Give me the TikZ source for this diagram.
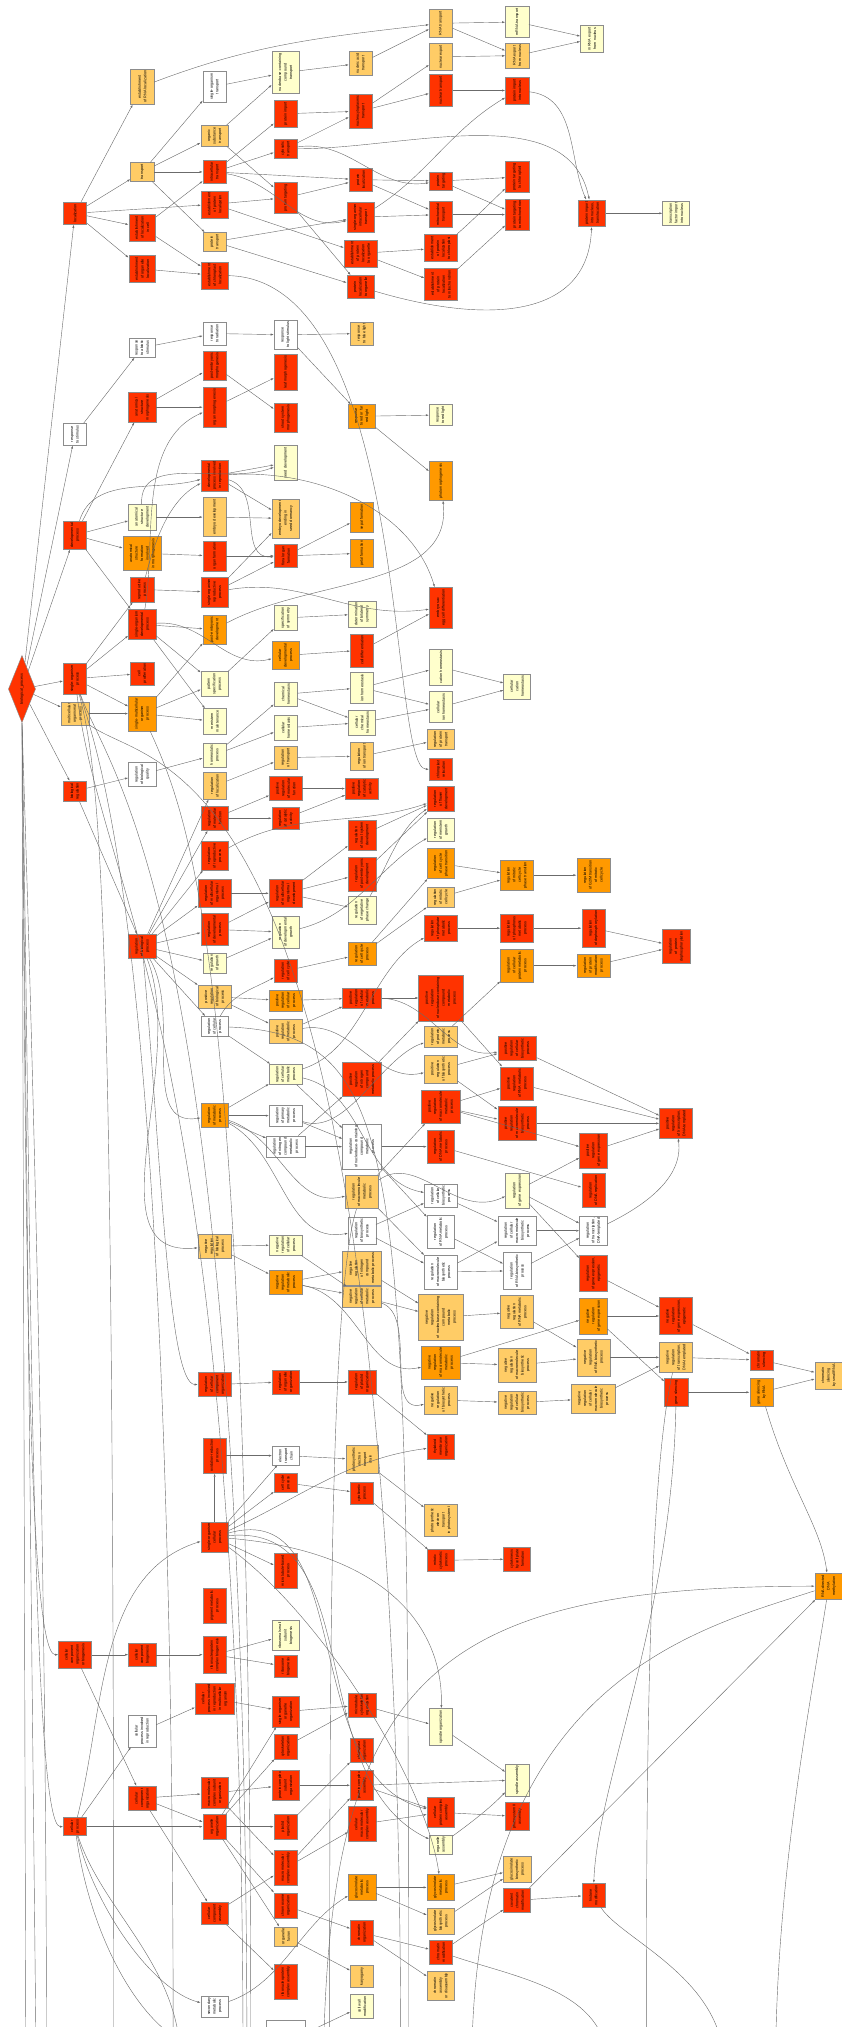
\documentclass[tikz,border=0pt]{standalone}
\usepackage{fontspec}
\setmainfont{Liberation Sans}
\usepackage{tikz}
\usetikzlibrary{arrows.meta, shapes.geometric}
\definecolor{cA}{HTML}{FF3300}
\definecolor{cB}{HTML}{FF9900}
\definecolor{cC}{HTML}{FFCC66}
\definecolor{cD}{HTML}{FFFFCC}

\begin{document}
\begin{tikzpicture}[x=1pt, y=1pt,
    term/.style = {draw=black!45, line width=0.35pt, rotate=90, align=center, font=\fontsize{2.9}{4.3}\selectfont, inner xsep=1.5pt, inner ysep=5pt, minimum height=18pt, minimum width=14pt},
    lvA/.style = {term, fill=cA}, lvB/.style = {term, fill=cB}, lvC/.style = {term, fill=cC},
    lvD/.style = {term, fill=cD}, lvN/.style = {term, fill=white},
    root/.style = {diamond, draw=black!45, line width=0.35pt, fill=cA, rotate=90, font=\fontsize{2.9}{4.3}\selectfont, inner sep=0pt, aspect=2.4, minimum width=52pt, minimum height=21pt},
    dep/.style = {-{Latex[length=2.4pt, width=1.6pt]}, line width=0.32pt, draw=black!58}]

    \useasboundingbox (0,0) rectangle (651,-1568);

    \node[root] (bp) at (17,-533) {biological\_process};

    \node[lvA] (loc) at (58,-165) {localization};
    \node[lvN] (rs) at (58,-336) {response\\to stimulus};
    \node[lvA] (dev) at (58,-414) {developmental\\process};
    \node[lvA] (sop) at (58,-525) {single-organism\\process};
    \node[lvC] (mop) at (58,-552) {multicellular\\organismal\\process};
    \node[lvA] (breg) at (58,-612) {biological\\regulation};
    \node[lvA] (ccob) at (58,-1280) {cellular\\component\\organization\\or biogenesis};
    \node[lvA] (cp) at (58,-1413) {cellular\\process};

    \node[lvC] (erl) at (110,-67) {establishment\\of RNA localization};
    \node[lvC] (trn) at (110,-133) {transport};
    \node[lvA] (elc) at (110,-176) {establishment\\of localization\\in cell};
    \node[lvA] (eol) at (110,-208) {establishment\\of organelle\\localization};
    \node[lvN] (ras) at (110,-269) {response\\to abiotic\\stimulus};
    \node[lvA] (asm) at (110,-315) {anatomical\\structure\\morphogenesis};
    \node[lvD] (asd) at (110,-400) {anatomical\\structure\\development};
    \node[lvB] (asf) at (110,-428) {anatomical\\structure\\formation\\involved\\in morphogenesis};
    \node[lvA] (rp) at (110,-456) {reproductive\\process};
    \node[lvA] (sodp) at (110,-483) {single-organism\\developmental\\process};
    \node[lvA] (cpro) at (110,-521) {cell\\proliferation};
    \node[lvB] (smop) at (110,-552) {single-multicellular\\organism\\process};
    \node[lvN] (rbq) at (110,-599) {regulation\\of biological\\quality};
    \node[lvA] (rbp) at (110,-732) {regulation\\of biological\\process};
    \node[lvA] (ccb) at (110,-1280) {cellular\\component\\biogenesis};
    \node[lvN] (cpir) at (110,-1339) {cellular\\process involved\\in reproduction};
    \node[lvA] (cco) at (110,-1391) {cellular\\component\\organization};

    \node[lvN] (sot) at (166,-67) {single-organism\\transport};
    \node[lvC] (ost) at (166,-105) {organic\\substance\\transport};
    \node[lvA] (ict) at (166,-133) {intracellular\\transport};
    \node[lvA] (epl) at (166,-158) {establishment\\of protein\\localization};
    \node[lvC] (ptr) at (166,-187) {protein\\transport};
    \node[lvA] (ecl) at (166,-213) {establishment\\of chloroplast\\localization};
    \node[lvN] (rrad) at (166,-258) {response\\to radiation};
    \node[lvA] (pem) at (166,-283) {post-embryonic\\morphogenesis};
    \node[lvA] (om) at (166,-315) {organ morphogenesis};
    \node[lvA] (dpr) at (166,-368) {developmental\\process involved\\in reproduction};
    \node[lvC] (emd) at (166,-400) {embryo development};
    \node[lvA] (ofm) at (166,-430) {organ formation};
    \node[lvA] (sorp) at (166,-458) {single organism\\reproductive\\process};
    \node[lvB] (ped) at (166,-487) {post-embryonic\\development};
    \node[lvD] (psp) at (166,-529) {pattern\\specification\\process};
    \node[lvD] (mm) at (166,-558) {meristem\\maintenance};
    \node[lvD] (hp) at (166,-584) {homeostatic\\process};
    \node[lvC] (rloc) at (166,-608) {regulation\\of localization};
    \node[lvA] (rmf) at (166,-633) {regulation\\of molecular\\function};
    \node[lvA] (rrp) at (166,-662) {regulation\\of reproductive\\process};
    \node[lvA] (rmop) at (166,-691) {regulation\\of multicellular\\organismal\\process};
    \node[lvA] (rdp) at (166,-719) {regulation\\of developmental\\process};
    \node[lvD] (rgr) at (166,-745) {regulation\\of growth};
    \node[lvC] (prbp) at (166,-771) {positive\\regulation\\of biological\\process};
    \node[lvN] (rcp) at (166,-794) {regulation\\of cellular\\process};
    \node[lvB] (rmp) at (166,-863) {regulation\\of metabolic\\process};
    \node[lvC] (nrbp) at (166,-964) {negative\\regulation\\of biological\\process};
    \node[lvA] (rcco) at (166,-1071) {regulation\\of cellular\\component\\organization};
    \node[lvA] (orp) at (166,-1126) {oxidation-reduction\\process};
    \node[lvA] (socp) at (166,-1189) {single-organism\\cellular\\process};
    \node[lvA] (pmp) at (166,-1242) {pigment metabolic\\process};
    \node[lvA] (rcb) at (166,-1280) {ribonucleoprotein\\complex biogenesis};
    \node[lvA] (cpmo) at (166,-1314) {cellular\\process involved\\in reproduction\\in multicellular\\organism};
    \node[lvA] (mcso) at (166,-1387) {macromolecular\\complex subunit\\organization};
    \node[lvA] (oo) at (166,-1413) {organelle\\organization};
    \node[lvA] (cca) at (166,-1480) {cellular\\component\\assembly};
    \node[lvN] (smp) at (166,-1552) {secondary\\metabolic\\process};
    \node[lvD, minimum height=30pt, minimum width=34pt] (somp) at (166,-1588) {};

    \node[lvD] (nct) at (221,-56) {nucleobase-containing\\compound\\transport};
    \node[lvA] (pimp) at (221,-88) {protein import};
    \node[lvA] (cytr) at (221,-115) {cytosolic\\transport};
    \node[lvA] (ptg) at (221,-153) {protein targeting};
    \node[lvN] (rls) at (221,-259) {response\\to light stimulus};
    \node[lvA] (lm) at (221,-288) {leaf morphogenesis};
    \node[lvA] (ssm) at (221,-323) {shoot system\\morphogenesis};
    \node[lvD] (sd) at (221,-358) {seed development};
    \node[lvC] (edes) at (221,-401) {embryo development\\ending in\\seed dormancy};
    \node[lvA] (foform) at (221,-430) {floral organ\\formation};
    \node[lvD] (sos) at (221,-478) {specification\\of symmetry};
    \node[lvB] (cdp) at (221,-507) {cellular\\developmental\\process};
    \node[lvD] (chh) at (221,-537) {chemical\\homeostasis};
    \node[lvD] (ch) at (221,-563) {cellular\\homeostasis};
    \node[lvC] (rtr) at (221,-586) {regulation\\of transport};
    \node[lvA] (prmf) at (221,-610) {positive\\regulation\\of molecular\\function};
    \node[lvA] (rca) at (221,-633) {regulation\\of catalytic\\activity};
    \node[lvA] (rmod) at (221,-691) {regulation\\of multicellular\\organismal\\development};
    \node[lvD] (rdg) at (221,-721) {regulation\\of developmental\\growth};
    \node[lvA] (rcc) at (221,-751) {regulation\\of cell cycle};
    \node[lvB] (prcp) at (221,-774) {positive\\regulation\\of cellular\\process};
    \node[lvC] (prmp) at (221,-798) {positive\\regulation\\of metabolic\\process};
    \node[lvD] (rcmp) at (221,-831) {regulation\\of cellular\\metabolic\\process};
    \node[lvN] (rpmp) at (221,-863) {regulation\\of primary\\metabolic\\process};
    \node[lvN] (rncmp) at (221,-887) {regulation\\of nitrogen\\compound\\metabolic\\process};
    \node[lvD] (nrcp) at (221,-963) {negative\\regulation\\of cellular\\process};
    \node[lvB] (nrmp) at (221,-992) {negative\\regulation\\of metabolic\\process};
    \node[lvA] (roo) at (221,-1069) {regulation\\of organelle\\organization};
    \node[lvN] (etc) at (221,-1126) {electron\\transport\\chain};
    \node[lvA] (ccyp) at (221,-1147) {cell cycle\\process};
    \node[lvA] (mtb) at (221,-1215) {microtubule-based\\process};
    \node[lvD] (rssb) at (221,-1265) {ribosomal small\\subunit\\biogenesis};
    \node[lvA] (rb) at (221,-1289) {ribosome\\biogenesis};
    \node[lvA] (soo) at (221,-1324) {single-organism\\organelle\\organization};
    \node[lvA] (cso) at (221,-1351) {cytoskeleton\\organization};
    \node[lvA] (pcso) at (221,-1381) {protein complex\\subunit\\organization};
    \node[lvA] (po) at (221,-1413) {plastid\\organization};
    \node[lvA] (mca) at (221,-1445) {macromolecular\\complex assembly};
    \node[lvA] (co) at (221,-1474) {chromosome\\organization};
    \node[lvC] (ofu) at (221,-1498) {organelle\\fusion};
    \node[lvA] (rcpa) at (221,-1533) {ribonucleoprotein\\complex assembly};
    \node[lvN, minimum height=30pt, minimum width=34pt] (cmpb) at (221,-1580) {};

    \node[lvC] (nat) at (279,-49) {nucleic acid\\transport};
    \node[lvA] (nctr) at (279,-86) {nucleocytoplasmic\\transport};
    \node[lvA] (ploc) at (279,-139) {protein\\localization};
    \node[lvA] (soit) at (279,-168) {single-organism\\intracellular\\transport};
    \node[lvA] (eplo) at (279,-196) {establishment\\of protein\\localization\\to organelle};
    \node[lvA] (plo) at (279,-222) {protein\\localization\\to organelle};
    \node[lvC] (rbl) at (280,-258) {response\\to blue light};
    \node[lvB] (rrfl) at (280,-322) {response\\to red or far\\red light};
    \node[lvB] (sf) at (280,-400) {sepal formation};
    \node[lvB] (pf) at (280,-428) {petal formation};
    \node[lvD] (dbs) at (280,-475) {determination\\of bilateral\\symmetry};
    \node[lvA] (cd) at (280,-503) {cell differentiation};
    \node[lvD] (ih) at (280,-532) {ion homeostasis};
    \node[lvD] (cchh) at (280,-559) {cellular\\chemical\\homeostasis};
    \node[lvC] (rit) at (280,-585) {regulation\\of ion transport};
    \node[lvA] (prca) at (280,-610) {positive\\regulation\\of catalytic\\activity};
    \node[lvA] (rssd) at (280,-646) {regulation\\of shoot system\\development};
    \node[lvA] (rped) at (280,-676) {regulation\\of post-embryonic\\development};
    \node[lvD] (rvpc) at (280,-704) {regulation\\of vegetative\\phase change};
    \node[lvB] (rccp) at (280,-738) {regulation\\of cell cycle\\process};
    \node[lvA] (prcmp) at (280,-772) {positive\\regulation\\of cellular\\metabolic\\process};
    \node[lvA] (prncm) at (280,-835) {positive\\regulation\\of nitrogen\\compound\\metabolic process};
    \node[lvN] (rnbc) at (280,-887) {regulation\\of nucleobase-containing\\compound\\metabolic\\process};
    \node[lvC] (rmmp) at (280,-922) {regulation\\of macromolecule\\metabolic\\process};
    \node[lvN] (rbsp) at (280,-952) {regulation\\of biosynthetic\\process};
    \node[lvC] (nrncm) at (280,-981) {negative\\regulation\\of nitrogen\\compound\\metabolic process};
    \node[lvC] (nrcmp) at (280,-1003) {negative\\regulation\\of cellular\\metabolic\\process};
    \node[lvA] (rpo) at (280,-1069) {regulation\\of plastid\\organization};
    \node[lvC] (petc) at (280,-1129) {photosynthetic\\electron\\transport\\chain};
    \node[lvA] (cytp) at (280,-1155) {cytokinetic\\process};
    \node[lvA] (cyo) at (280,-1319) {microtubule\\cytoskeleton\\organization};
    \node[lvA] (chro) at (280,-1354) {chloroplast\\organization};
    \node[lvA] (pca) at (280,-1381) {protein complex\\assembly};
    \node[lvA] (cmca) at (280,-1411) {cellular\\macromolecular\\complex assembly};
    \node[lvB] (gmp) at (280,-1460) {glucosinolate\\metabolic\\process};
    \node[lvA] (cho) at (280,-1495) {chromatin\\organization};
    \node[lvC] (kar) at (280,-1529) {karyogamy};
    \node[lvD] (cwm) at (280,-1552) {cell wall\\modification};
    \node[lvC, minimum height=23pt, minimum width=30pt] (cwo) at (280,-1584) {};

    \node[lvC] (rnat) at (341,-18) {RNA transport};
    \node[lvC] (nex) at (341,-44) {nuclear export};
    \node[lvA] (ntr) at (341,-70) {nuclear transport};
    \node[lvA] (ptpl) at (341,-140) {protein\\targeting};
    \node[lvA] (mtr) at (341,-166) {mitochondrial\\transport};
    \node[lvA] (eplc) at (341,-192) {establishment\\of protein\\localization\\to chloroplast};
    \node[lvA] (eplm) at (341,-220) {establishment\\of protein\\localization\\to mitochondrion};
    \node[lvD] (rrl) at (341,-321) {response\\to red light};
    \node[lvB] (pm) at (341,-372) {photomorphogenesis};
    \node[lvA] (esec) at (341,-470) {embryo sac\\egg cell differentiation};
    \node[lvD] (cah) at (341,-516) {cation homeostasis};
    \node[lvD] (cih) at (341,-547) {cellular\\ion homeostasis};
    \node[lvC] (rpt) at (341,-572) {regulation\\of protein\\transport};
    \node[lvA] (cr) at (341,-595) {chloroplast\\relocation};
    \node[lvA] (rfd) at (341,-618) {regulation\\of flower\\development};
    \node[lvD] (rmg) at (341,-642) {regulation\\of meristem\\growth};
    \node[lvB] (rccpt) at (341,-668) {regulation\\of cell cycle\\phase transition};
    \node[lvC] (rmcc) at (341,-694) {regulation\\of mitotic\\cell cycle};
    \node[lvA] (rphmp) at (341,-718) {regulation\\of phosphate\\metabolic\\process};
    \node[lvA] (prnb) at (341,-772) {positive\\regulation\\of nucleobase-containing\\compound\\metabolic\\process};
    \node[lvC] (rprmp) at (341,-802) {regulation\\of protein\\metabolic\\process};
    \node[lvC] (prbs) at (341,-827) {positive\\regulation\\of biosynthetic\\process};
    \node[lvA] (prmm) at (341,-856) {positive\\regulation\\of macromolecule\\metabolic\\process};
    \node[lvA] (rdna) at (341,-887) {regulation\\of DNA metabolic\\process};
    \node[lvN] (rcbp) at (341,-925) {regulation\\of cellular\\biosynthetic\\process};
    \node[lvN] (rrmp) at (341,-953) {regulation\\of RNA metabolic\\process};
    \node[lvN] (rmbp) at (341,-984) {regulation\\of macromolecule\\biosynthetic\\process};
    \node[lvC] (nrnb) at (341,-1019) {negative\\regulation\\of nucleobase-containing\\compound\\metabolic\\process};
    \node[lvB] (nrmm) at (341,-1054) {negative\\regulation\\of macromolecule\\metabolic\\process};
    \node[lvC] (nrbs) at (341,-1083) {negative\\regulation\\of biosynthetic\\process};
    \node[lvA] (tmo) at (341,-1119) {thylakoid\\membrane\\organization};
    \node[lvC] (pet) at (341,-1176) {photosynthetic\\electron\\transport\\in photosystem I};
    \node[lvA] (mcyp) at (341,-1207) {mitotic\\cytokinetic\\process};
    \node[lvD] (spo) at (341,-1336) {spindle organization};
    \node[lvA] (cpca) at (341,-1402) {cellular\\protein complex\\assembly};
    \node[lvD] (oa) at (341,-1427) {organelle\\assembly};
    \node[lvB] (glmp) at (341,-1460) {glycosinolate\\metabolic\\process};
    \node[lvC] (glbp) at (341,-1486) {glycosinolate\\biosynthetic\\process};
    \node[lvA] (cm) at (341,-1510) {chromatin\\modification};
    \node[lvC] (cad) at (341,-1536) {chromatin\\assembly\\or disassembly};

    \node[lvD] (mrt) at (400,-17) {mRNA transport};
    \node[lvC] (rexn) at (400,-43) {RNA export\\from nucleus};
    \node[lvA] (nim) at (400,-70) {protein import\\into nucleus};
    \node[lvA] (ptch) at (400,-137) {protein targeting\\to chloroplast};
    \node[lvA] (ptm) at (400,-166) {protein targeting\\to mitochondrion};
    \node[lvD] (cch) at (400,-531) {cellular\\cation\\homeostasis};
    \node[lvB] (rmcpt) at (400,-677) {regulation\\of mitotic\\cell cycle\\phase transition};
    \node[lvA] (rphos) at (400,-718) {regulation\\of phosphorus\\metabolic\\process};
    \node[lvB] (rcpm) at (400,-747) {regulation\\of cellular\\protein metabolic\\process};
    \node[lvA] (prcb) at (400,-811) {positive\\regulation\\of cellular\\biosynthetic\\process};
    \node[lvA] (prrmp) at (400,-838) {positive\\regulation\\of RNA metabolic\\process};
    \node[lvA] (prmb) at (400,-869) {positive\\regulation\\of macromolecule\\biosynthetic\\process};
    \node[lvD] (rge) at (400,-921) {regulation\\of gene expression};
    \node[lvN] (rcmb) at (400,-952) {regulation\\of cellular\\macromolecule\\biosynthetic\\process};
    \node[lvN] (rrbp) at (400,-983) {regulation\\of RNA biosynthetic\\process};
    \node[lvC] (nrrm) at (400,-1015) {negative\\regulation\\of RNA metabolic\\process};
    \node[lvC] (nrmb) at (400,-1056) {negative\\regulation\\of macromolecule\\biosynthetic\\process};
    \node[lvC] (nrcb) at (400,-1085) {negative\\regulation\\of cellular\\biosynthetic\\process};
    \node[lvA] (cpf) at (400,-1206) {cytokinesis\\by cell plate\\formation};
    \node[lvD] (spa) at (400,-1377) {spindle assembly};
    \node[lvA] (ps2) at (400,-1405) {photosystem II\\assembly};
    \node[lvC] (gbp) at (400,-1446) {glucosinolate\\biosynthetic\\process};
    \node[lvA] (ccm) at (400,-1470) {covalent\\chromatin\\modification};

    \node[lvD] (mex) at (458,-30) {mRNA export\\from nucleus};
    \node[lvA] (pin) at (458,-165) {protein import\\into nucleus,\\translocation};
    \node[lvB] (rg2m) at (459,-677) {regulation\\of G2/M transition\\of mitotic\\cell cycle};
    \node[lvA] (rdph) at (459,-718) {regulation\\of dephosphorylation};
    \node[lvB] (rpmod) at (459,-747) {regulation\\of protein\\modification\\process};
    \node[lvA] (prge) at (459,-890) {positive\\regulation\\of gene expression};
    \node[lvA] (rdr) at (459,-921) {regulation\\of DNA replication};
    \node[lvN] (rtdt) at (459,-952) {regulation\\of transcription,\\DNA-templated};
    \node[lvA] (rgee) at (459,-985) {regulation\\of gene expression,\\epigenetic};
    \node[lvB] (nrge) at (459,-1018) {negative\\regulation\\of gene expression};
    \node[lvC] (nrrb) at (459,-1050) {negative\\regulation\\of RNA biosynthetic\\process};
    \node[lvC] (nrcmb) at (459,-1082) {negative\\regulation\\of cellular\\macromolecule\\biosynthetic\\process};
    \node[lvA] (hm) at (459,-1466) {histone\\modification};

    \node[lvD] (tfin) at (523,-165) {transcription\\factor import\\into nucleus};
    \node[lvA] (rpd) at (523,-732) {regulation\\of protein\\dephosphorylation};
    \node[lvA] (prt) at (523,-869) {positive\\regulation\\of transcription,\\DNA-templated};
    \node[lvA] (nrgee) at (523,-1018) {negative\\regulation\\of gene expression,\\epigenetic};
    \node[lvC] (nrt) at (523,-1050) {negative\\regulation\\of transcription,\\DNA-templated};
    \node[lvA] (gs) at (523,-1077) {gene silencing};

    \node[lvA] (chs) at (589,-1052) {chromatin\\silencing};
    \node[lvB] (gsr) at (589,-1077) {gene silencing\\by RNA};
    \node[lvC] (chsr) at (641,-1064) {chromatin\\silencing\\by small RNA};
    \node[lvB] (rddm) at (641,-1227) {RNA-directed\\DNA\\methylation};

    \coordinate (d1) at (20,-1600); \coordinate (d2) at (28,-1600); \coordinate (d3) at (188,-1600);
    \coordinate (d4) at (194,-1600); \coordinate (d5) at (255,-1600); \coordinate (d6) at (310,-1600);
    \coordinate (d7) at (560,-1600); \coordinate (d8) at (470,-1600); \coordinate (d9) at (250,-1620);
    \coordinate (d10) at (36,-1600); \coordinate (d11) at (500,-1600); \coordinate (d12) at (600,-1600);
    \coordinate (d13) at (316,-1600); \coordinate (d14) at (140,-1600); \coordinate (d15) at (88,-1600);
    \coordinate (d16) at (134,-1600); \coordinate (d17) at (191,-1600); \coordinate (d18) at (365,-1600);

    \draw[dep] (bp) -- (loc); \draw[dep] (bp) -- (rs); \draw[dep] (bp) -- (dev); \draw[dep] (bp) -- (sop);
    \draw[dep] (bp) -- (mop); \draw[dep] (bp) -- (breg);
    \draw[dep] (bp.west) .. controls (20,-900) and (20,-1280) .. (ccob); \draw[dep] (bp.west) .. controls (24,-950) and (24,-1413) .. (cp);
    \draw[dep] (bp.west) -- (d1); \draw[dep] (bp.west) -- (d2); \draw[dep] (bp.west) .. controls (25,-800) and (36,-1200) .. (d10);

    \draw[dep] (loc) -- (erl); \draw[dep] (loc) -- (trn); \draw[dep] (loc) -- (elc); \draw[dep] (loc) -- (eol);
    \draw[dep] (loc) -- (epl);
    \draw[dep] (erl) to[out=12,in=180] (rnat);
    \draw[dep] (trn) -- (sot); \draw[dep] (trn) -- (ost); \draw[dep] (trn) -- (ict); \draw[dep] (trn) -- (ptr);
    \draw[dep] (elc) -- (ict); \draw[dep] (elc) -- (ecl); \draw[dep] (eol) -- (ecl);
    \draw[dep] (sot) -- (nct); \draw[dep] (ost) -- (nct); \draw[dep] (ost) -- (ptg);
    \draw[dep] (ict) -- (pimp); \draw[dep] (ict) -- (cytr); \draw[dep] (ict) -- (ploc);
    \draw[dep] (ict) to[out=-20,in=180] (soit);
    \draw[dep] (epl) -- (ptg); \draw[dep] (epl) -- (eplo);
    \draw[dep] (ptr) -- (soit); \draw[dep] (ptr) -- (plo);
    \draw[dep] (ecl) .. controls (318,-216) and (300,-595) .. (cr);
    \draw[dep] (nct) -- (nat); \draw[dep] (pimp) -- (nctr); \draw[dep] (cytr) -- (nctr);
    \draw[dep] (cytr) to[out=0,in=180] (ptpl); \draw[dep] (cytr) to[out=-5,in=95] (pin);
    \draw[dep] (ptg) -- (ploc); \draw[dep] (ptg) -- (plo);
    \draw[dep] (nat) -- (rnat); \draw[dep] (nctr) -- (nex); \draw[dep] (nctr) -- (ntr);
    \draw[dep] (ploc) -- (ptpl); \draw[dep] (ploc) -- (mtr); \draw[dep] (soit) -- (mtr);
    \draw[dep] (soit) to[out=20,in=200] (nim);
    \draw[dep] (eplo) -- (eplc); \draw[dep] (eplo) -- (eplm);
    \draw[dep] (plo) .. controls (380,-252) and (455,-245) .. (pin);
    \draw[dep] (rnat) -- (mrt); \draw[dep] (rnat) -- (rexn); \draw[dep] (nex) -- (rexn);
    \draw[dep] (ntr) -- (nim); \draw[dep] (mrt) -- (mex); \draw[dep] (rexn) -- (mex);
    \draw[dep] (nim) to[out=-20,in=100] (pin);
    \draw[dep] (ptpl) -- (ptch); \draw[dep] (ptpl) -- (ptm); \draw[dep] (mtr) -- (ptm);
    \draw[dep] (eplc) to[out=20,in=200] (ptch); \draw[dep] (eplm) -- (ptm);
    \draw[dep] (pin) -- (tfin);

    \draw[dep] (rs) -- (ras); \draw[dep] (ras) -- (rrad); \draw[dep] (rrad) -- (rls);
    \draw[dep] (rls) -- (rbl); \draw[dep] (rls) -- (rrfl); \draw[dep] (rrfl) -- (rrl); \draw[dep] (rrfl) -- (pm);
    \draw[dep] (dev) -- (asm); \draw[dep] (dev) -- (asd); \draw[dep] (dev) -- (asf); \draw[dep] (dev) -- (sodp);
    \draw[dep] (dev) to[out=60,in=180] (dpr);
    \draw[dep] (asm) -- (pem); \draw[dep] (asm) -- (om); \draw[dep] (pem) -- (ssm); \draw[dep] (om) -- (lm);
    \draw[dep] (asd) -- (emd); \draw[dep] (asd) to[out=80,in=185] (sd);
    \draw[dep] (dpr) -- (sd); \draw[dep] (dpr) -- (edes); \draw[dep] (dpr) to[out=-40,in=170] (foform);
    \draw[dep] (dpr) to[out=-5,in=100] (esec);
    \draw[dep] (emd) -- (edes); \draw[dep] (asf) -- (ofm); \draw[dep] (ofm) -- (foform);
    \draw[dep] (foform) -- (sf); \draw[dep] (foform) -- (pf);
    \draw[dep] (rp) -- (sorp); \draw[dep] (rp) to[out=60,in=190] (dpr);
    \draw[dep] (sorp) -- (edes); \draw[dep] (sorp) -- (foform); \draw[dep] (sorp) to[out=0,in=175] (esec);
    \draw[dep] (sodp) to[out=70,in=190] (om); \draw[dep] (sodp) -- (ped); \draw[dep] (sodp) -- (psp);
    \draw[dep] (sodp) -- (mm); \draw[dep] (sodp) to[out=-10,in=180] (cdp);
    \draw[dep] (ped) to[out=20,in=-90] (pm);
    \draw[dep] (psp) -- (sos); \draw[dep] (sos) -- (dbs); \draw[dep] (cdp) -- (cd); \draw[dep] (cd) -- (esec);
    \draw[dep] (sop) -- (sodp); \draw[dep] (sop) -- (cpro); \draw[dep] (sop) -- (smop); \draw[dep] (sop) -- (rp);
    \draw[dep] (mop) -- (smop);
    \draw[dep] (smop) -- (mm); \draw[dep] (smop) -- (psp); \draw[dep] (smop) -- (ped);
    \draw[dep] (hp) -- (chh); \draw[dep] (hp) -- (ch);
    \draw[dep] (chh) -- (ih); \draw[dep] (chh) -- (cchh); \draw[dep] (ch) -- (cchh);
    \draw[dep] (ih) -- (cah); \draw[dep] (ih) -- (cih); \draw[dep] (cchh) -- (cih);
    \draw[dep] (cah) -- (cch); \draw[dep] (cih) -- (cch);

    \draw[dep] (breg) -- (rbq); \draw[dep] (breg) -- (rbp); \draw[dep] (rbq) -- (hp);
    \draw[dep] (rbp) -- (rloc); \draw[dep] (rbp) -- (rmf); \draw[dep] (rbp) -- (rrp); \draw[dep] (rbp) -- (rmop);
    \draw[dep] (rbp) -- (rdp); \draw[dep] (rbp) -- (rgr); \draw[dep] (rbp) -- (prbp); \draw[dep] (rbp) -- (rcp);
    \draw[dep] (rbp) to[out=-70,in=180] (rmp); \draw[dep] (rbp) to[out=-75,in=180] (nrbp);
    \draw[dep] (rbp) .. controls (125,-900) and (130,-1071) .. (rcco);
    \draw[dep] (rloc) -- (rtr); \draw[dep] (rtr) -- (rit); \draw[dep] (rit) -- (rpt);
    \draw[dep] (rmf) -- (prmf); \draw[dep] (rmf) -- (rca); \draw[dep] (prmf) -- (prca); \draw[dep] (rca) -- (prca);
    \draw[dep] (rrp) to[out=20,in=190] (rfd);
    \draw[dep] (rmop) -- (rmod); \draw[dep] (rmod) -- (rssd); \draw[dep] (rmod) -- (rped); \draw[dep] (rmod) -- (rvpc);
    \draw[dep] (rssd) -- (rfd); \draw[dep] (rped) -- (rfd); \draw[dep] (rvpc) to[out=40,in=200] (rfd);
    \draw[dep] (rdp) -- (rmod); \draw[dep] (rdp) -- (rdg); \draw[dep] (rgr) -- (rdg);
    \draw[dep] (rdg) to[out=0,in=200] (rmg);
    \draw[dep] (rcc) -- (rccp); \draw[dep] (rccp) -- (rccpt); \draw[dep] (rccp) -- (rmcc);
    \draw[dep] (rccpt) -- (rmcpt); \draw[dep] (rmcc) -- (rmcpt); \draw[dep] (rmcpt) -- (rg2m);
    \draw[dep] (rcmp) to[out=10,in=200] (rphmp);
    \draw[dep] (rphmp) -- (rphos); \draw[dep] (rphos) -- (rdph); \draw[dep] (rdph) -- (rpd);
    \draw[dep] (rprmp) -- (rcpm); \draw[dep] (rcpm) -- (rpmod); \draw[dep] (rpmod) -- (rpd);
    \draw[dep] (prbp) -- (prcp); \draw[dep] (prbp) -- (prmp); \draw[dep] (prcp) -- (prcmp); \draw[dep] (prmp) -- (prcmp);
    \draw[dep] (prmp) to[out=0,in=180] (prbs); \draw[dep] (prcmp) -- (prnb); \draw[dep] (prcmp) to[out=-10,in=180] (prcb);
    \draw[dep] (rcp) to[out=40,in=190] (rcc); \draw[dep] (rcp) -- (rcmp);
    \draw[dep] (rmp) -- (rcmp); \draw[dep] (rmp) -- (rpmp); \draw[dep] (rmp) -- (rncmp);
    \draw[dep] (rmp) to[out=-30,in=180] (rmmp); \draw[dep] (rmp) to[out=-40,in=180] (rbsp);
    \draw[dep] (rcmp) -- (rnbc); \draw[dep] (rcmp) to[out=-20,in=160] (rcbp);
    \draw[dep] (rpmp) -- (rnbc); \draw[dep] (rpmp) to[out=-30,in=190] (rprmp);
    \draw[dep] (rncmp) -- (rnbc); \draw[dep] (rncmp) -- (prncm);
    \draw[dep] (prncm) -- (prnb); \draw[dep] (prbs) -- (prcb); \draw[dep] (prbs) -- (prmb);
    \draw[dep] (prmm) -- (prmb); \draw[dep] (prmm) -- (prrmp); \draw[dep] (prmm) -- (prge);
    \draw[dep] (prnb) -- (prrmp); \draw[dep] (prcb) -- (prt); \draw[dep] (prrmp) -- (prt);
    \draw[dep] (prmb) -- (prt); \draw[dep] (prge) -- (prt);
    \draw[dep] (rnbc) -- (rdna); \draw[dep] (rnbc) -- (rrmp); \draw[dep] (rdna) -- (rdr);
    \draw[dep] (rmmp) to[out=20,in=190] (rge); \draw[dep] (rmmp) -- (rmbp); \draw[dep] (rmmp) -- (prmm);
    \draw[dep] (rbsp) -- (rcbp); \draw[dep] (rbsp) -- (rmbp);
    \draw[dep] (rcbp) -- (rcmb); \draw[dep] (rrmp) -- (rrbp); \draw[dep] (rmbp) -- (rcmb); \draw[dep] (rmbp) -- (rrbp);
    \draw[dep] (rge) -- (prge); \draw[dep] (rge) -- (rtdt); \draw[dep] (rge) -- (rgee);
    \draw[dep] (rcmb) -- (rtdt); \draw[dep] (rrbp) -- (rtdt); \draw[dep] (rtdt) to[out=10,in=-100] (prt);
    \draw[dep] (nrbp) -- (nrcp); \draw[dep] (nrbp) -- (nrmp); \draw[dep] (nrcp) -- (nrcmp);
    \draw[dep] (nrmp) -- (nrncm); \draw[dep] (nrmp) -- (nrcmp); \draw[dep] (nrmp) to[out=-20,in=180] (nrmm);
    \draw[dep] (nrncm) -- (nrnb); \draw[dep] (nrcmp) -- (nrnb); \draw[dep] (nrcmp) to[out=-30,in=180] (nrbs);
    \draw[dep] (nrnb) -- (nrrm); \draw[dep] (nrmm) -- (nrmb); \draw[dep] (nrmm) -- (nrge);
    \draw[dep] (nrmb) -- (nrrb); \draw[dep] (nrrm) -- (nrrb);
    \draw[dep] (nrge) -- (nrgee); \draw[dep] (nrge) -- (gs); \draw[dep] (nrrb) -- (nrt); \draw[dep] (rgee) -- (nrgee);
    \draw[dep] (nrgee) -- (chs); \draw[dep] (nrt) -- (chs); \draw[dep] (chs) -- (chsr);
    \draw[dep] (gs) -- (gsr); \draw[dep] (gsr) -- (chsr); \draw[dep] (gsr) .. controls (610,-1150) and (635,-1180) .. (rddm);
    \draw[dep] (nrbs) -- (nrcb); \draw[dep] (nrcb) -- (nrcmb); \draw[dep] (nrcmb) -- (nrt);
    \draw[dep] (rcco) -- (roo); \draw[dep] (roo) -- (rpo); \draw[dep] (rpo) -- (tmo);

    \draw[dep] (orp) -- (etc); \draw[dep] (etc) -- (petc); \draw[dep] (petc) -- (pet);
    \draw[dep] (socp) -- (orp); \draw[dep] (socp) -- (etc); \draw[dep] (socp) -- (ccyp); \draw[dep] (socp) -- (mtb);
    \draw[dep] (socp) .. controls (300,-1200) and (343,-1260) .. (spo); \draw[dep] (socp) to[out=10,in=160] (cpca);
    \draw[dep] (socp) to[out=0,in=150] (oa); \draw[dep] (socp) to[out=15,in=180] (tmo);
    \draw[dep] (socp) .. controls (250,-1250) and (330,-1380) .. (glmp);
    \draw[dep] (ccyp) -- (cytp); \draw[dep] (cytp) -- (mcyp); \draw[dep] (mcyp) -- (cpf);
    \draw[dep] (ccob) -- (ccb); \draw[dep] (ccob) -- (cco); \draw[dep] (ccb) -- (rcb);
    \draw[dep] (rcb) -- (rssb); \draw[dep] (rcb) -- (rb);
    \draw[dep] (cp) -- (cpir); \draw[dep] (cp) -- (oo); \draw[dep] (cp) to[out=70,in=190] (socp);
    \draw[dep] (cp) .. controls (75,-1480) and (120,-1540) .. (smp); \draw[dep] (cp) .. controls (70,-1500) and (110,-1570) .. (somp);
    \draw[dep] (cpir) -- (cpmo); \draw[dep] (cpmo) -- (soo);
    \draw[dep] (cco) -- (mcso); \draw[dep] (cco) -- (oo); \draw[dep] (cco) -- (cca);
    \draw[dep] (mcso) -- (pcso); \draw[dep] (mcso) -- (mca);
    \draw[dep] (oo) -- (soo); \draw[dep] (oo) -- (po); \draw[dep] (oo) -- (cso); \draw[dep] (oo) -- (co); \draw[dep] (oo) -- (ofu);
    \draw[dep] (soo) -- (cyo); \draw[dep] (cso) -- (cyo); \draw[dep] (po) -- (chro); \draw[dep] (cyo) -- (spo);
    \draw[dep] (spo) -- (spa); \draw[dep] (oa) to[out=20,in=200] (spa);
    \draw[dep] (pcso) -- (pca); \draw[dep] (pca) -- (cpca); \draw[dep] (pca) -- (spa);
    \draw[dep] (mca) -- (cmca); \draw[dep] (mca) -- (pca); \draw[dep] (cmca) -- (cpca); \draw[dep] (cpca) -- (ps2);
    \draw[dep] (cca) -- (mca); \draw[dep] (cca) -- (rcpa);
    \draw[dep] (co) -- (cho); \draw[dep] (cho) -- (cm); \draw[dep] (cho) -- (cad);
    \draw[dep] (cm) -- (ccm); \draw[dep] (ccm) -- (hm); \draw[dep] (ccm) -- (rddm);
    \draw[dep] (gmp) -- (glmp); \draw[dep] (gmp) -- (glbp); \draw[dep] (glmp) -- (gbp); \draw[dep] (glbp) -- (gbp);
    \draw[dep] (smp) to[out=10,in=200] (gmp); \draw[dep] (ofu) -- (kar); \draw[dep] (cmpb) -- (cwm);
    \draw[dep] (gs) .. controls (520,-1250) and (462,-1380) .. (hm);
    \draw[dep] (d9) .. controls (250,-1300) and (330,-1227) .. (rddm);

    \draw[dep] (sop) .. controls (80,-700) and (188,-800) .. (d3);
    \draw[dep] (sop) .. controls (78,-600) and (88,-700) .. (d15);
    \draw[dep] (sop) .. controls (82,-600) and (134,-760) .. (d16);
    \draw[dep] (sop) .. controls (84,-600) and (191,-700) .. (d17);
    \draw[dep] (smop) .. controls (150,-640) and (194,-760) .. (d4);
    \draw[dep] (rmmp) .. controls (255,-1000) and (255,-1300) .. (d5);
    \draw[dep] (mop) .. controls (120,-600) and (310,-560) .. (d6);
    \draw[dep] (rcp) .. controls (316,-800) and (316,-900) .. (d13);
    \draw[dep] (rddm) .. controls (540,-1260) and (365,-1300) .. (d18);
    \draw[dep] (hm) .. controls (480,-1500) and (560,-1530) .. (d7);
    \draw[dep] (cm) .. controls (400,-1530) and (470,-1540) .. (d8);
    \draw[dep] (nrt) .. controls (500,-1150) and (500,-1400) .. (d11);
    \draw[dep] (rddm) .. controls (630,-1300) and (600,-1450) .. (d12);
    \draw[dep] (cp) .. controls (80,-1480) and (140,-1520) .. (d14);
\end{tikzpicture}
\end{document}
